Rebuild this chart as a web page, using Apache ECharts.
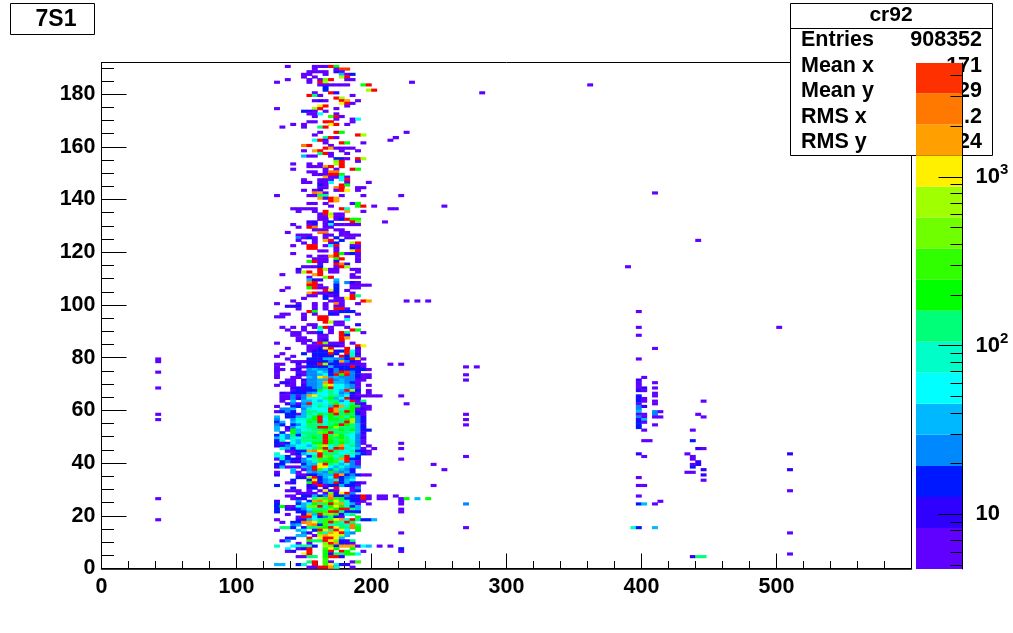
<!DOCTYPE html>
<html>
<head>
<meta charset="utf-8">
<style>html,body{margin:0;padding:0;background:#fff}#c{width:1013px;height:633px}</style>
<script src="https://cdn.jsdelivr.net/npm/echarts@6/dist/echarts.min.js"></script>
</head>
<body>
<div id="c"></div>
<script>
// Level letters a..q map onto contour bands of the colour bar.
var levelLetters = 'abcdefghijklmnopq';
var levelColors = ['#6000ff','#3000ff','#0018ff','#0088ff','#00b8ff','#00ffff','#00ffc8','#00ff78','#00ff00','#30ff00','#70ff00','#a0ff00','#fff000','#ffa000','#ff7800','#ff3000','#ff0000'];
var levelCounts = [6.3,10.3,15.7,24,37,56,85,130,199,304,464,710,1084,1656,2529,3846,5500];
var bandEdgesLog = [0.676,0.919,1.103,1.287,1.471,1.655,1.839,2.023,2.207,2.391,2.575,2.759,2.943,3.127,3.311,3.495,3.675];
var colorMinorTicks = [5,6,7,8,9,20,30,40,50,60,70,80,90,200,300,400,500,600,700,800,900,2000,3000,4000];

var xTicksMajorStep = 100;
var yTickLabels = [0,20,40,60,80,100,120,140,160,180];
var yTickMinor = [5,10,15,25,30,35,45,50,55,65,70,75,85,90,95,105,110,115,125,130,135,145,150,155,165,170,175,185,190];

var statsNames = ['Entries','Mean x','Mean y','RMS x','RMS y'];
var statsValues = ['908352','171','29','.2','24'];

// [y bin, "x-bin + letters"] : a run of letters fills consecutive x bins (x bin = 4 units).
var rowsUpper = [
[190,"34a 39aaaqi"],[189,"39a 43a 44pp"],[188,"38aa 40aa 43b 44a"],[187,"37aa 41a 44ea 46c"],[186,"37a 39a 44lq"],
[185,"34a 38a 40ak q 45aa"],[184,"32a 38a 40ql"],[183,"40aaa 43aaa 48iq"],[182,"41c"],[181,"41c 49lq"],
[180,"39a 42qb"],[179,"38qha 46a"],[178,"43ql"],[177,"39aba 44qn 47a"],[176,"44mqa"],[175,"40mq 45a"],
[174,"32a 39lq 43a"],[173,"37cba 41a"],[172,"38aaf 43a"],[171,"39a 42jqa"],[170,"43a 46af"],[169,"38aa 41qq 46a"],
[168,"35a 37a 42mq 45a"],[167,"33a 37a 40hq"],[165,"40a 43qi"],[164,"39a 47ql"],[163,"41hqa 54a"],[162,"39fqa 53a"],
[161,"41a 44qi 48a"],[160,"37oq 42a"],[159,"41qn 43aaaa"],[158,"37a 39nq 44a 47a"],[157,"40hqa 45a"],[156,"37eaa 42a"],
[155,"43cc 45a 47ql"],[154,"43kq 47a"],[153,"35a 38a 40a 43lq"],[152,"38aaa n q 44q"],[151,"35a 41a 43a 46qi"],
[150,"38aa 41aoo"],[149,"39aaa qqi"],[148,"41naafa"],[147,"37a 40aaa 44fq"],[146,"37aa 40aaf 45a 49a"],[145,"40ca 44qi"],
[144,"40aa 43oq 47aa"],[143,"37a 39ab 43a 44qm 47a"]
];
var rowsMiddle = [
[142,"39on a"],[141,"32a 38aa 40hh 44a 48a"],[140,"40na 42qn"],[139,"42qn"],[138,"38aa 41a 46ai"],[137,"42a 47iq 50a"],
[136,"35aaaaa 44qg 53a"],[135,"36a 39a 41q 45n 48a"],[134,"40aql aa"],[133,"40aam aa"],[132,"40aa 43a c qii"],[131,"38bb 41ac 46qk 52a"],
[130,"35a 38ab 41af aaaaa"],[129,"36a 38qo 41aa"],[128,"39aaa 43aa"],[127,"34a 40oo 44aa"],[126,"36aaa 41aa 44aaaa"],
[125,"36dac a 41a 43c 45aa"],[124,"36a 39a 41nq 44c"],[123,"37a 39a 42ac 46lq"],[122,"35a 38qq 41afq 46aa"],[121,"38qq 43a 46ca"],
[120,"40aa 43a 46mq"],[119,"35a 43qia c a"],[118,"38a 40aanq 47a"],[117,"39aaa 43iq 47a"],[116,"38iqaa 43b 47a"],[115,"40a 43qob"],
[114,"37aaac 43aql"],[113,"36b 40qlaa 46aa"],[112,"36alq 40q 42aa 47a"],[111,"33a 39nq 46a"],[110,"38a 41kq 46aa"],[109,"38ecb 43e"],
[108,"38oq 43d 45db a"],[107,"38qqa 43c 46aaaa"],[106,"34a 38iqaa 43c 46aa"],[105,"33a 41qmc 45a"],[104,"38nqaabb 46a"],[103,"38aa 41bab 46qh"],
[102,"37a 41c 43aa 45mq"],[101,"35a 42aaa 48qn"],[100,"32a 36a 39a 41a 43oa 47a"],[99,"34bbc 39a 41a 43aa"],[98,"36a 39a 41a 43qqa"],
[97,"38qi 42aaccc"],[96,"33aa 37a 39a 42cb 47a"],[95,"32aa 37a 40qq 45a"],[94,"37a 40qq 45f"]
];
var rowsDense = [
[93,"41qlaa"],[92,"38aa 43aa 47b"],[91,"33a 35a 37a 39ahq a 45a"],[90,"34a 37a 40f 42a 46qi"],[89,"35aa 38aac 42a 44qh 48a"],
[88,"35aa 40aa 44qb"],[87,"36aa 40aa 44qn"],[86,"36aaa 40ab 44q"],[85,"32a 37a 39aqkaaa 46a"],[84,"38aaaabba 47qm"],[83,"34a 38aabmq 45q 47b"],
[82,"38abcbmbc qfa"],[81,"33a 37c 39cccqc 45qgb"],[80,"32a 35a 39bcbc 44qcga"],[79,"34a 38ccbeedd cqma"],[78,"35aaabbccdcndca"],
[77,"32aa 36b 38cbqlbcaaaaa 53a"],[76,"32a 36aa 38ccccecccqca"],[75,"32aa 35ab 38dedd bdccccca"],[74,"32a 36aaddfecdqpdb"],[73,"32a 36ba ddefcqiqdcaa"],
[72,"32a 35aa 38edmndeddd ba a"],[71,"34aa 37bddeeqdeddaa"],[70,"33bba 37addenqeedca"],[69,"32a 34aa 37bddelmffeda 49a"],[68,"35bbbcdejqffeda"],
[67,"35acbccifhfeqlc 49a"],[66,"33bacccdeffhfdeca 49a"],[65,"33aadadnmgfhhefbaaaaa"],[64,"33aadbdfffhiefqbb"],[63,"33a 35e 37eefefhhdfqah"],
[62,"34bdadqggfhiffhab"],[61,"32a 35cceefhgeqngiiaa"],[60,"33dde 37dgfffqnghiaba"],[59,"32acdc 37ehhffqnhqiba"],[58,"34cca ehfihiqhihca"],
[57,"32e 34cceegiqgihjgidb"],[56,"32d 35dgghiqfiihildc"],[55,"32ce 35effihqghhhqldb"],[54,"32dc 35cdfhhhghiqiheb"],[53,"32e 34bdfghhqqilhhhec"],
[52,"32e 34aiefghhihhihieb c"],[51,"33c 35iehhhkjqhhhgeb"],[50,"32cfdhcghhhqhkigfda"],[49,"32efdgfhhihqjhihfdb"],[48,"32bg 35gehhhhqihjhgda"],
[47,"32cacfegfiiqihihgda"],[46,"32bcdeffegklfhnfhd 49a"],[45,"33gecggfhjqgqpgfea 50a"],[44,"34aaccnomjqhgfhcba"],[43,"32g 35aceFfqhhhfggeca"],
[42,"32ff c 36a 38chqkjfhqfc"],[41,"32agccbdfgjhihnqcc"],[40,"33cdbbdeghiijfqda"],[39,"32cc 37ceemqhgefda"],[38,"32beaaaedqmmfegedd"],
[37,"35e 37adqjfdhedb"],[36,"32a 35ea 38edediedec"],[35,"32b 36aabcdeeqncdcaa"],[34,"36cblqcefqcde"],[33,"35c 38cmcdegcef"],
[32,"34ab 38iqbdeqcecba"],[31,"32c 38baqaccecca"],[30,"35c 38bc 41b 43q 46ad"],[29,"34aaa 38a 40amba 46ac"],[28,"36aaaa 41akbmqd"],
[27,"34aa 37cbecdnccdbbqa 51aa 54a"],[26,"35abb 39hkjojicCbqa 51aa 55ai 58e 60i"],[25,"32b 36d 38cnolimhgcba 55a"],
[24,"32c 36cefihjqkngea 49a 55a"],[23,"32ciaafekkqgimigce"],[22,"32c 34bbcdfhhhkiqqhe"],[21,"32c 36cceiijqqhcbc 55a"],[20,"34a 37bneqkkjbfh"],
[19,"36aqqfcdhca 47i"],[18,"32a 36bbefhjjmngqhcce"],[17,"33a 35ccon mhjqjgqh"],[16,"35de 38nocjgghgoh"],[15,"33hhc 37bhhjiqmhhoi"],
[14,"32a 36ef 39cqmhqmf 47i"],[13,"37db 40jgnmqed 55a"],[12,"36ee 39alnmmle"],[11,"34bc 38q 40mqqme"],[10,"33bd 38ihhqmkbb 46h"],
[9,"36a 38a 41kqncba"],[8,"32g 35fghgc 41lkcnnnafe 51a 53a"],[7,"34f 36ab 38q 41jmi 46i 55c"],[6,"34ab 38q 41iq 44qi 48a 55a"],[5,"37mq 41ichhi 46if"],
[4,"36aahh 41iqqb"],[3,"41j"],[2,"38hq 41ja 46aj"],[1,"32ee 36cg 39q 41jmfcb"],[0,"38aa qqnq 43g 46a"]
];
var sparseCells = [
[10,79,'a'],[10,78,'a'],[10,74,'a'],[10,68,'a'],[10,58,'a'],[10,56,'a'],[10,26,'a'],[10,18,'a'],
[57,184,'a'],[70,180,'a'],[90,183,'a'],[54,163,'a'],[56,165,'a'],[55,141,'a'],[102,142,'a'],[54,136,'a'],[63,137,'a'],
[110,124,'a'],[97,114,'a'],[56,101,'a'],[58,101,'a'],[60,101,'a'],[99,97,'a'],[125,91,'a'],[99,91,'a'],[99,88,'a'],[102,83,'a'],
[55,77,'a'],[67,76,'a'],[69,76,'a'],[67,73,'a'],[67,71,'a'],[55,65,'a'],[56,62,'a'],[67,58,'a'],[67,56,'a'],[67,54,'a'],
[99,79,'a'],[100,72,'a'],[99,71,'b'],[99,70,'a'],[99,69,'a'],[102,70,'a'],[102,68,'a'],[99,68,'a'],[100,68,'b'],[99,67,'b'],[100,67,'a'],
[102,66,'a'],[102,65,'a'],[99,65,'c'],[99,64,'b'],[100,64,'a'],[99,63,'c'],[100,63,'a'],[102,63,'a'],[102,62,'a'],[99,62,'a'],
[99,61,'d'],[100,61,'b'],[99,60,'d'],[99,59,'e'],[102,59,'d'],[103,59,'a'],[99,58,'a'],[100,58,'a'],[102,58,'d'],[99,57,'d'],[100,57,'a'],[102,57,'a'],[103,57,'a'],
[99,56,'b'],[100,56,'e'],[99,55,'c'],[100,55,'a'],[99,54,'c'],[102,54,'a'],[99,53,'c'],[100,52,'a'],[111,63,'a'],[110,58,'a'],[111,57,'a'],[109,52,'a'],
[100,48,'a'],[101,48,'a'],[109,48,'c'],[110,45,'b'],[111,45,'a'],[99,43,'b'],[100,42,'a'],[108,43,'a'],[109,42,'a'],[109,41,'a'],[110,40,'b'],[110,39,'b'],
[109,39,'a'],[109,38,'c'],[108,36,'a'],[109,36,'a'],[111,37,'b'],[111,35,'b'],[111,33,'a'],[99,34,'a'],[99,31,'a'],[100,31,'a'],[99,27,'a'],
[127,43,'b'],[127,37,'b'],[127,29,'a'],[127,13,'a'],[127,5,'a'],[98,15,'g'],[99,15,'c'],[102,15,'e'],[99,24,'c'],[100,24,'e'],[103,25,'a'],[102,24,'a'],
[109,4,'b'],[110,4,'h'],[111,4,'h'],[67,24,'d'],[67,15,'a'],[55,22,'a'],[61,39,'a'],[63,37,'a'],[61,31,'a'],[55,47,'a'],[55,45,'a'],[55,41,'a'],[67,42,'a']
];

var xBins = [];
for (var i = 0; i < 150; i++) xBins.push(i * 4);
var yBins = [];
for (var j = 0; j < 192; j++) yBins.push(j);

function addRows(rows, out) {
  rows.forEach(function (row) {
    var k = null;
    row[1].toLowerCase().split(' ').forEach(function (tok) {
      var m = /^(\d*)([a-q]*)$/.exec(tok);
      if (!m) return;
      if (m[1] !== '') k = +m[1];
      for (var c = 0; c < m[2].length; c++) {
        out.push([k, row[0], levelCounts[levelLetters.indexOf(m[2][c])]]);
        k++;
      }
    });
  });
}
var cells = [];
addRows(rowsUpper, cells);
addRows(rowsMiddle, cells);
addRows(rowsDense, cells);
sparseCells.forEach(function (c) { cells.push([c[0], c[1], levelCounts[levelLetters.indexOf(c[2])]]); });

var pieces = levelColors.map(function (col, i) {
  return i < 16
    ? { min: Math.pow(10, bandEdgesLog[i]), max: Math.pow(10, bandEdgesLog[i + 1]), color: col }
    : { min: Math.pow(10, bandEdgesLog[16]), color: col };
});
var bandData = [];
for (var b = 0; b < 16; b++) bandData.push([bandEdgesLog[b], bandEdgesLog[b + 1], b]);

var FONT = '"Liberation Sans", Arial, sans-serif';
var labelStyle = { color: '#000', fontFamily: FONT, fontWeight: 'bold', fontSize: 21.5 };

var statsGraphics = [
  { type: 'rect', z: 50, shape: { x: 790.5, y: 3.5, width: 202, height: 152 }, style: { fill: '#fff', stroke: '#000', lineWidth: 1 } },
  { type: 'line', z: 51, shape: { x1: 790.5, y1: 28.5, x2: 992.5, y2: 28.5 }, style: { stroke: '#000', lineWidth: 1 } },
  { type: 'text', z: 51, x: 891, y: 15.5, style: { text: 'cr92', font: 'bold 21px ' + FONT, fill: '#000', align: 'center', verticalAlign: 'middle' } },
  { type: 'rect', z: 50, shape: { x: 10.5, y: 3.5, width: 84, height: 31 }, style: { fill: '#fff', stroke: '#000', lineWidth: 1 } },
  { type: 'text', z: 51, x: 56, y: 20, style: { text: '7S1', font: 'bold 23px ' + FONT, fill: '#000', align: 'center', verticalAlign: 'middle' } }
];
statsNames.forEach(function (n, i) {
  var y = 40 + i * 25.6;
  statsGraphics.push({ type: 'text', z: 51, x: 801, y: y, style: { text: n, font: 'bold 21.5px ' + FONT, fill: '#000', align: 'left', verticalAlign: 'middle' } });
  statsGraphics.push({ type: 'text', z: 51, x: 982, y: y, style: { text: statsValues[i], font: 'bold 21.5px ' + FONT, fill: '#000', align: 'right', verticalAlign: 'middle' } });
});

var mainGrid = { left: 101.5, width: 810, top: 62.5, height: 506 };
var barGrid = { left: 916, width: 46.5, top: 63, height: 506 };

var chart = echarts.init(document.getElementById('c'), null, { renderer: 'canvas' });
chart.setOption({
  animation: false,
  backgroundColor: '#fff',
  graphic: { elements: statsGraphics },
  visualMap: { type: 'piecewise', show: false, seriesIndex: 0, pieces: pieces },
  grid: [
    Object.assign({ show: true, borderColor: '#000', borderWidth: 1, backgroundColor: '#fff' }, mainGrid),
    barGrid,
    mainGrid,
    barGrid
  ],
  xAxis: [
    { type: 'category', gridIndex: 0, data: xBins, show: false },
    { type: 'value', gridIndex: 0, position: 'bottom', min: 0, max: 600, interval: xTicksMajorStep,
      axisLine: { show: true, lineStyle: { color: '#000', width: 1.5 } },
      axisTick: { show: true, inside: true, length: 15, lineStyle: { color: '#000' } },
      minorTick: { show: true, splitNumber: 5, length: 7.5, lineStyle: { color: '#000' } },
      splitLine: { show: false },
      axisLabel: Object.assign({ margin: 8, showMaxLabel: false }, labelStyle) },
    { type: 'value', gridIndex: 1, min: 0, max: 1, show: false },
    { type: 'value', gridIndex: 2, min: 0, max: 1, show: false },
    { type: 'value', gridIndex: 3, min: 0, max: 1, show: false }
  ],
  yAxis: [
    { type: 'category', gridIndex: 0, data: yBins, show: false },
    { type: 'value', gridIndex: 0, position: 'left', min: 0, max: 192,
      axisLine: { show: true, lineStyle: { color: '#000', width: 1 } },
      axisTick: { show: true, inside: true, length: 25, customValues: yTickLabels, lineStyle: { color: '#000' } },
      splitLine: { show: false },
      axisLabel: Object.assign({ margin: 6, customValues: yTickLabels }, labelStyle) },
    { type: 'value', gridIndex: 2, position: 'left', min: 0, max: 192,
      axisLine: { show: false, onZero: false },
      axisTick: { show: true, inside: true, length: 12.5, customValues: yTickMinor, lineStyle: { color: '#000' } },
      splitLine: { show: false }, axisLabel: { show: false } },
    { type: 'value', gridIndex: 1, position: 'right', min: bandEdgesLog[0], max: bandEdgesLog[16], z: 110,
      axisLine: { show: true, onZero: false, lineStyle: { color: '#000', width: 1 } },
      axisTick: { show: true, inside: true, length: 24, customValues: [1, 2, 3], lineStyle: { color: '#000' } },
      splitLine: { show: false },
      axisLabel: {
        margin: 13, customValues: [1, 2, 3], color: '#000', fontFamily: FONT, fontWeight: 'bold', fontSize: 22,
        formatter: function (v) { return v === 1 ? '10' : '10{s|' + v + '}'; },
        rich: { s: { fontFamily: FONT, fontWeight: 'bold', fontSize: 15, color: '#000', padding: [0, 0, 14, 0] } }
      } },
    { type: 'value', gridIndex: 3, position: 'right', min: bandEdgesLog[0], max: bandEdgesLog[16], z: 110,
      axisLine: { show: false, onZero: false },
      axisTick: { show: true, inside: true, length: 12, customValues: colorMinorTicks.map(function (v) { return Math.log10(v); }), lineStyle: { color: '#000' } },
      splitLine: { show: false }, axisLabel: { show: false } }
  ],
  series: [
    { type: 'heatmap', xAxisIndex: 0, yAxisIndex: 0, data: cells, progressive: 0, silent: true, itemStyle: { borderWidth: 0 } },
    { type: 'custom', xAxisIndex: 2, yAxisIndex: 3, z: 100, silent: true, data: bandData, encode: { y: [0, 1] },
      renderItem: function (params, api) {
        var lo = api.coord([0, api.value(0)]);
        var hi = api.coord([1, api.value(1)]);
        return { type: 'rect', shape: { x: lo[0], y: hi[1], width: hi[0] - lo[0], height: lo[1] - hi[1] },
          style: { fill: levelColors[api.value(2)] } };
      } }
  ]
});
</script>
</body>
</html>
